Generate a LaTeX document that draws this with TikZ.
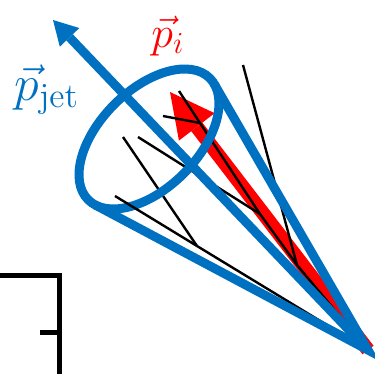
\documentclass[tikz,border=0pt]{standalone}
\usetikzlibrary{arrows.meta}
\definecolor{jetblue}{RGB}{0,112,192}
\definecolor{partred}{RGB}{255,0,0}
\begin{document}
\begin{tikzpicture}[x=1pt,y=-1pt,
  conestroke/.style={draw=jetblue, line width=9pt},
  track/.style={draw=black, line width=2.4pt},
  frame/.style={draw=black, line width=4.6pt},
  label/.style={anchor=base west, inner sep=0pt, font=\huge}]
\useasboundingbox (0,0) rectangle (375,373);

% cone geometry: apex, ellipse centre and the two tangent points
\coordinate (apex) at (368,350);
\coordinate (C) at (149,139);
\coordinate (T1) at (214.3,84.1);
\coordinate (T2) at (95.1,204.9);
\coordinate (jettip) at (53,20);
\coordinate (ptip) at (170,92);

% particle momentum
\draw[draw=partred, line width=14pt, -{Triangle[length=44pt,width=45pt,line width=0pt]}, fill=partred]
  (apex) -- (ptip);

% shower tracks
\coordinate (a0) at (179,91);
\coordinate (k1) at (200,123);
\coordinate (k2) at (260,214);
\coordinate (k3) at (297,265);
\coordinate (k4) at (197,246);
\draw[track] (a0) -- (k1) -- (k2) -- (k3) -- (apex);
\draw[track] (163,116) -- (k1);
\draw[track] (138,137) -- (k2);
\draw[track] (243,65) -- (k3);
\draw[track] (123,137) -- (k4);
\draw[track] (k4) -- (apex);

% jet cone and jet axis
\draw[conestroke] (T1) -- (apex) -- (T2);
\draw[conestroke, rotate around={45:(C)}] (C) ellipse [x radius=86pt, y radius=49pt];
\draw[conestroke, -{Triangle[length=24pt,width=27pt,line width=0pt]}, fill=jetblue]
  (apex) -- (jettip);

\draw[track] (115,196) -- (k4);

% frame corner
\draw[frame, line cap=butt] (0,275.5) -- (59.5,275.5) -- (59.5,380);
\draw[frame] (40,332.5) -- (59.5,332.5);

% labels
\node[label, text=jetblue, scale=2.41] (pjet) at (14,100) {$\vec{p}_{\mathrm{jet}}$};
\node[label, text=partred, scale=2.12] (plab) at (151,47) {$\vec{p}_{i}$};
\end{tikzpicture}
\end{document}
